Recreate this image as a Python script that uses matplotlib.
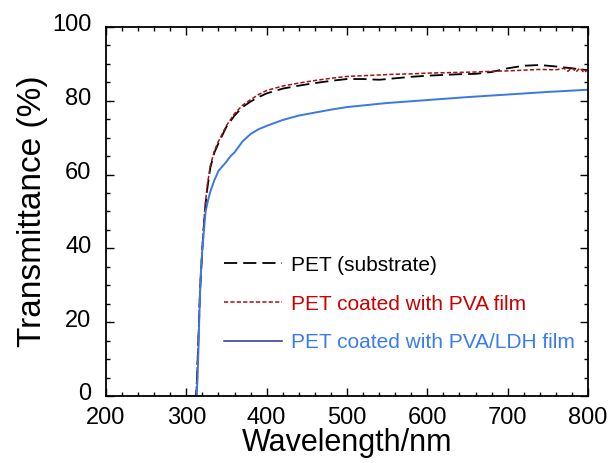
import matplotlib
matplotlib.use("Agg")
import matplotlib.pyplot as plt
import matplotlib.transforms as mtransforms
from matplotlib.lines import Line2D
from matplotlib.ticker import MultipleLocator

plt.rcParams['font.family'] = ['Liberation Sans', 'DejaVu Sans']
plt.rcParams['lines.scale_dashes'] = False

# PET substrate
wl_pet = [303, 312, 313, 315, 317, 320, 323, 326, 330, 335, 340, 350, 360, 370, 380, 390,
          400, 420, 440, 460, 480, 500, 520, 540, 560, 580, 600, 620, 640, 660, 680,
          700, 720, 740, 760, 780, 800]
t_pet = [0, 0, 3, 15, 28, 40, 50, 56, 62, 66, 68.5, 73, 76, 78.3, 79.8, 81,
         82, 83.3, 84.1, 84.8, 85.4, 85.9, 85.9, 85.7, 86.1, 86.5, 86.8, 87, 87.2, 87.3, 87.8,
         88.8, 89.5, 89.7, 89.3, 88.8, 88.3]

# PET coated with PVA film
wl_pva = [303, 312, 313, 315, 317, 320, 323, 326, 330, 335, 340, 350, 360, 370, 380, 390,
          400, 420, 440, 460, 480, 500, 520, 540, 560, 580, 600, 620, 640, 660, 680,
          700, 720, 740, 760, 770, 775, 780, 785, 790, 795, 800]
t_pva = [0, 0, 4, 16, 29, 41, 50.5, 57, 62.5, 66.5, 69, 73.3, 76.5, 78.8, 80.3, 81.7,
         82.8, 84, 84.8, 85.5, 86.1, 86.6, 86.8, 87, 87.2, 87.3, 87.5, 87.6, 87.7, 87.8, 88,
         88.1, 88.3, 88.5, 88.4, 88.8, 88, 89, 87.8, 88.9, 87.6, 88.5]

# PET coated with PVA/LDH film
wl_ldh = [303, 313, 314, 315, 316, 317, 318, 320, 322, 324, 327, 330, 335, 340, 350, 355,
          360, 365, 370, 380, 390, 400, 420, 440, 460, 480, 500, 550, 600, 650, 700, 750, 800]
t_ldh = [0, 0, 5, 12, 20, 27, 33, 40, 45, 50, 53, 55.5, 58.5, 61, 63.5, 65,
         66, 67.5, 69, 71, 72.3, 73.2, 74.8, 76, 76.8, 77.6, 78.3, 79.4, 80.2, 81, 81.7, 82.4, 83]

labels = ["PET (substrate)", "PET coated with PVA film", "PET coated with PVA/LDH film"]

fig = plt.figure(figsize=(6.08, 4.63), dpi=100)
ax = fig.add_axes([0.1743, 0.1447, 0.7928, 0.797])

ax.plot(wl_pet, t_pet, color='black', lw=1.3, dashes=(9.5, 4.3))
ax.plot(wl_pva, t_pva, color='#a50f0f', lw=1.1, dashes=(3.0, 1.6))
ax.plot(wl_ldh, t_ldh, color='#3a78e6', lw=1.4)

ax.set_xlim(200, 800)
ax.set_ylim(0, 100)
ax.xaxis.set_major_locator(MultipleLocator(100))
ax.xaxis.set_minor_locator(MultipleLocator(20))
ax.yaxis.set_major_locator(MultipleLocator(20))
ax.yaxis.set_minor_locator(MultipleLocator(5))
ax.tick_params(which='both', direction='in', top=True, right=True, width=1.0)
ax.tick_params(which='major', length=6, labelsize=17)
ax.tick_params(axis='x', which='major', pad=8)
ax.tick_params(axis='y', which='major', pad=10.5)
ax.tick_params(which='minor', length=3)
for s in ax.spines.values():
    s.set_linewidth(1.3)

# y tick labels sit a little above their ticks in the original
shift = mtransforms.ScaledTranslation(0, 3 / 72, fig.dpi_scale_trans)
for lab in ax.get_yticklabels():
    lab.set_transform(lab.get_transform() + shift)

ax.set_xlabel("Wavelength/nm", fontsize=22, labelpad=-1)
ax.set_ylabel("Transmittance (%)", fontsize=24, labelpad=3)

handles = [
    Line2D([], [], color='black', lw=1.3, dashes=(9.5, 4.3)),
    Line2D([], [], color='#a50f0f', lw=1.1, dashes=(3.0, 1.6)),
    Line2D([], [], color='#2e2e9e', lw=1.1),
]
ax.legend(handles, labels, loc='upper left', bbox_to_anchor=(0.245, 0.38),
          frameon=False, fontsize=15, handlelength=2.8, handletextpad=0.4,
          labelspacing=0.95, borderpad=0, borderaxespad=0,
          labelcolor=['black', '#cc0000', '#3a7cf0'])

fig.savefig("out.png", dpi=100)
